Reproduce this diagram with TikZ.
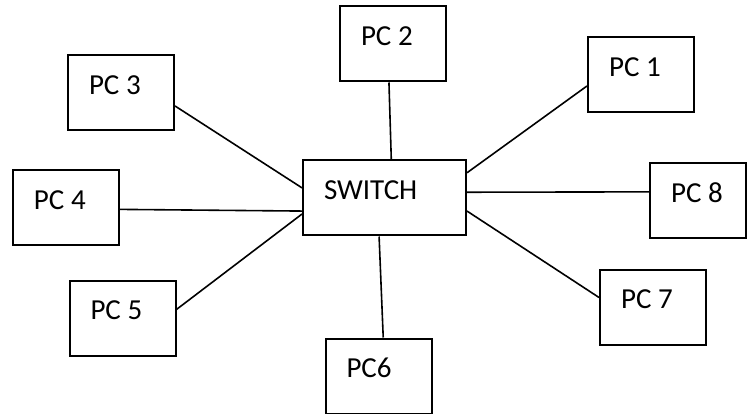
\documentclass[tikz,border=0pt]{standalone}
\usepackage{fontspec}
\setmainfont{Carlito}
\usepackage{tikz}
\tikzset{%
	pcbox/.style = {draw, rectangle, line width=2pt, inner xsep=21pt, inner ysep=21pt, text width=64pt, text height=18.3pt, text depth=14.7pt, font=\fontsize{29}{32}\selectfont, execute at begin node={\spaceskip=0pt}},
	link/.style  = {line width=1.6pt},
}
\begin{document}
\begin{tikzpicture}[x=1pt,y=-1pt]
	\useasboundingbox (0,0) rectangle (747,414);
	
	\node[pcbox, text width=121pt] (switch) at (384.5,198) {SWITCH};
	
	\node[pcbox] (pc1) at (641,74.5) {PC 1};
	\node[pcbox] (pc2) at (393,44) {PC 2};
	\node[pcbox] (pc3) at (121,92.5) {PC 3};
	\node[pcbox] (pc4) at (66,207.5) {PC 4};
	\node[pcbox] (pc5) at (122.5,318) {PC 5};
	\node[pcbox] (pc6) at (378.5,376) {PC6};
	\node[pcbox] (pc7) at (653,307) {PC 7};
	\node[pcbox, text width=54pt] (pc8) at (698,200.5) {PC 8};
	
	% switch anchor / pc anchor
	\foreach \n/\a/\b in {1/17/-168.8, 2/80/-96.2, 3/173/-14.3, 4/-171.6/-2.7, 5/-169.6/9.5, 6/-98.5/83.1, 7/-9.7/170.4, 8/4.2/170} \draw[link] (switch.\a) -- (pc\n.\b);
\end{tikzpicture}
\end{document}
